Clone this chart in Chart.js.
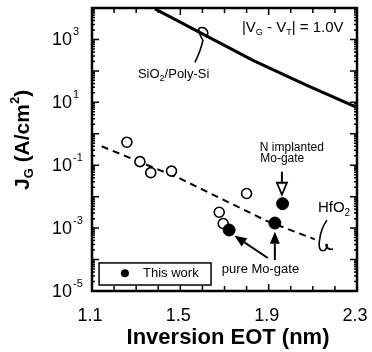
<!DOCTYPE html>
<html>
<head>
<meta charset="utf-8">
<script src="https://cdn.jsdelivr.net/npm/chart.js@4.4.1/dist/chart.umd.min.js"></script>
<style>
  html, body { margin: 0; padding: 0; background: #fff; }
  #wrap { width: 372px; height: 352px; }
</style>
</head>
<body>
<div id="wrap"><canvas id="jg-chart" width="372" height="352"></canvas></div>
<script>
// Gate leakage vs inversion EOT
const sioEot   = [1.385, 1.829, 2.073, 2.299];
const sioJg    = [9400, 215, 34.7, 6.9];

const hfoEot   = [1.144, 1.498, 1.890, 2.109];
const hfoJg    = [0.40, 0.038, 0.0017, 0.00044];

const refEot   = [1.258, 1.317, 1.366, 1.460, 1.800, 1.676, 1.694];
const refJg    = [0.54, 0.13, 0.058, 0.065, 0.0126, 0.0032, 0.0014];

const moEot    = [1.721, 1.928, 1.963];
const moJg     = [0.00087, 0.00145, 0.0060];

const xTickLabels = ['1.1', '1.5', '1.9', '2.3'];
const yTickExps   = [3, 1, -1, -3, -5];

const toPts = (xs, ys) => xs.map((x, i) => ({ x: x, y: ys[i] }));

const FONT = '"Liberation Sans", Arial, sans-serif';

function supText(ctx, base, sup, x, y, size, supSize, rise) {
    ctx.font = size + 'px ' + FONT;
    ctx.fillText(base, x, y);
    const w = ctx.measureText(base).width;
    ctx.font = supSize + 'px ' + FONT;
    ctx.fillText(sup, x + w + 1, y - rise);
}

function arrow(ctx, x1, y1, x2, y2, filled) {
    const a = Math.atan2(y2 - y1, x2 - x1);
    const len = 12, half = 5;
    const bx = x2 - len * Math.cos(a), by = y2 - len * Math.sin(a);
    ctx.beginPath();
    ctx.moveTo(x1, y1);
    ctx.lineTo(bx, by);
    ctx.lineWidth = 2;
    ctx.stroke();
    ctx.beginPath();
    ctx.moveTo(x2, y2);
    ctx.lineTo(bx + half * Math.sin(a), by - half * Math.cos(a));
    ctx.lineTo(bx - half * Math.sin(a), by + half * Math.cos(a));
    ctx.closePath();
    if (filled) {
        ctx.fill();
    } else {
        ctx.fillStyle = '#fff';
        ctx.fill();
        ctx.lineWidth = 1.8;
        ctx.stroke();
        ctx.fillStyle = '#000';
    }
}

const paperPlugin = {
    id: 'paper',
    afterDraw(chart) {
        const ctx = chart.ctx;
        const xs = chart.scales.x, ys = chart.scales.y;
        const X = v => xs.getPixelForValue(v);
        const Y = v => ys.getPixelForValue(v);
        const area = chart.chartArea;

        ctx.save();
        ctx.strokeStyle = '#000';
        ctx.fillStyle = '#000';

        // frame
        ctx.lineWidth = 2.5;
        ctx.strokeRect(area.left, area.top, area.right - area.left, area.bottom - area.top);

        // x ticks, inward on bottom and top
        ctx.lineWidth = 1.5;
        for (let i = 0; i <= 12; i++) {
            const v = 1.1 + i * 0.1;
            const px = X(v);
            const len = (i % 4 === 0) ? 7 : 5;
            ctx.beginPath();
            ctx.moveTo(px, area.bottom); ctx.lineTo(px, area.bottom - len);
            ctx.moveTo(px, area.top); ctx.lineTo(px, area.top + len);
            ctx.stroke();
        }
        // y ticks, decades and minor
        for (let e = -5; e <= 4; e++) {
            for (let m = 1; m <= 9; m++) {
                const v = m * Math.pow(10, e);
                if (v > 1e4 * 1.0001) continue;
                const py = Y(v);
                const len = m === 1 ? 7 : 3;
                ctx.beginPath();
                ctx.moveTo(area.left, py); ctx.lineTo(area.left + len, py);
                ctx.moveTo(area.right, py); ctx.lineTo(area.right - len, py);
                ctx.stroke();
            }
        }

        // tick labels
        ctx.textBaseline = 'middle';
        ctx.textAlign = 'center';
        ctx.font = '18px ' + FONT;
        xTickLabels.forEach(t => ctx.fillText(t, X(parseFloat(t)) - 2, 316));
        ctx.textAlign = 'left';
        yTickExps.forEach(e => {
            supText(ctx, '10', String(e), 52, Y(Math.pow(10, e)) + 1, 18, 11, 8);
        });

        // axis titles
        ctx.font = 'bold 22px ' + FONT;
        ctx.textAlign = 'center';
        ctx.fillText('Inversion EOT (nm)', 228, 338);

        ctx.save();
        ctx.translate(23, 190);
        ctx.rotate(-Math.PI / 2);
        ctx.textAlign = 'left';
        let cx = 0;
        const part = (txt, size, dy) => {
            ctx.font = 'bold ' + size + 'px ' + FONT;
            ctx.fillText(txt, cx, dy);
            cx += ctx.measureText(txt).width;
        };
        part('J', 21, 0);
        part('G', 13, 6);
        part(' (A/cm', 21, 0);
        part('2', 13, -8);
        part(')', 21, 0);
        ctx.restore();

        // annotations
        ctx.textAlign = 'left';
        ctx.textBaseline = 'middle';
        // |VG - VT| = 1.0V
        {
            let ax = X(1.779);
            const ay = Y(2400);
            const seg = (txt, size, dy) => {
                ctx.font = size + 'px ' + FONT;
                ctx.fillText(txt, ax, ay + dy);
                ax += ctx.measureText(txt).width;
            };
            seg('|V', 15, 0); seg('G', 9, 5); seg(' - V', 15, 0); seg('T', 9, 5); seg('| = 1.0V', 15, 0);
        }
        // SiO2/Poly-Si
        {
            let ax = X(1.308);
            const ay = Y(78);
            const seg = (txt, size, dy) => {
                ctx.font = size + 'px ' + FONT;
                ctx.fillText(txt, ax, ay + dy);
                ax += ctx.measureText(txt).width;
            };
            seg('SiO', 13, 0); seg('2', 9, 4); seg('/Poly-Si', 13, 0);
        }
        // HfO2
        {
            let ax = X(2.123);
            const ay = Y(0.0043);
            ctx.font = '15px ' + FONT;
            ctx.fillText('HfO', ax, ay);
            ax += ctx.measureText('HfO').width;
            ctx.font = '10px ' + FONT;
            ctx.fillText('2', ax, ay + 5);
        }
        ctx.font = '12px ' + FONT;
        ctx.fillText('N implanted', X(1.860), Y(0.37));
        ctx.fillText('Mo-gate', X(1.862), Y(0.166));
        ctx.font = '13px ' + FONT;
        ctx.fillText('pure Mo-gate', X(1.688), Y(4.7e-5));

        // arrows
        arrow(ctx, X(1.960), Y(0.062), X(1.960), Y(0.0115), false);
        arrow(ctx, X(1.896), Y(1.12e-4), X(1.745), Y(5.7e-4), true);
        arrow(ctx, X(1.928), Y(9.6e-5), X(1.928), Y(7.6e-4), true);

        // hooks linking labels to curves
        ctx.lineWidth = 1.6;
        {
            const hx = X(1.602), hy = Y(930);
            ctx.beginPath();
            ctx.moveTo(hx - 8, hy + 22);
            ctx.quadraticCurveTo(hx - 2, hy + 10, hx, hy);
            ctx.bezierCurveTo(hx - 3, hy - 6, hx - 7, hy - 13, hx - 1, hy - 13);
            ctx.bezierCurveTo(hx + 4, hy - 13, hx + 7, hy - 7, hx + 3, hy - 3);
            ctx.stroke();
        }
        {
            const hx = X(2.132), hy = Y(4.8e-4);
            ctx.beginPath();
            ctx.moveTo(hx + 7, hy - 18);
            ctx.quadraticCurveTo(hx + 1, hy - 9, hx, hy);
            ctx.quadraticCurveTo(hx - 2, hy + 9, hx + 1, hy + 12);
            ctx.quadraticCurveTo(hx + 5, hy + 14, hx + 7, hy + 9);
            ctx.quadraticCurveTo(hx + 8, hy + 5, hx + 6, hy + 7);
            ctx.quadraticCurveTo(hx + 8, hy + 12, hx + 13, hy + 11);
            ctx.stroke();
        }

        // legend
        ctx.lineWidth = 1.5;
        const lx1 = X(1.132), lx2 = X(1.639), ly1 = Y(7.8e-5), ly2 = Y(1.55e-5);
        ctx.fillStyle = '#fff';
        ctx.fillRect(lx1, ly1, lx2 - lx1, ly2 - ly1);
        ctx.strokeRect(lx1, ly1, lx2 - lx1, ly2 - ly1);
        ctx.fillStyle = '#000';
        ctx.beginPath();
        ctx.arc(X(1.249), Y(3.7e-5), 4, 0, Math.PI * 2);
        ctx.fill();
        ctx.font = '13px ' + FONT;
        ctx.fillText('This work', X(1.331), Y(3.7e-5));

        ctx.restore();
    }
};

new Chart(document.getElementById('jg-chart'), {
    type: 'scatter',
    data: {
        datasets: [
            {
                label: 'SiO2/Poly-Si',
                data: toPts(sioEot, sioJg),
                showLine: true,
                borderColor: '#000',
                borderWidth: 3,
                pointRadius: 0,
                tension: 0,
                order: 4
            },
            {
                label: 'HfO2',
                data: toPts(hfoEot, hfoJg),
                showLine: true,
                borderColor: '#000',
                borderWidth: 2,
                borderDash: [7, 5],
                pointRadius: 0,
                tension: 0,
                order: 3
            },
            {
                label: 'HfO2 reported',
                data: toPts(refEot, refJg),
                pointStyle: 'circle',
                pointRadius: 5,
                pointBorderWidth: 1.6,
                borderColor: '#000',
                backgroundColor: '#fff',
                order: 2
            },
            {
                label: 'This work',
                data: toPts(moEot, moJg),
                pointStyle: 'circle',
                pointRadius: 6,
                borderColor: '#000',
                backgroundColor: '#000',
                order: 1
            }
        ]
    },
    options: {
        responsive: false,
        devicePixelRatio: 1,
        animation: false,
        events: [],
        layout: { padding: { left: 92, right: 15, top: 8, bottom: 61 } },
        plugins: { legend: { display: false }, tooltip: { enabled: false } },
        scales: {
            x: { type: 'linear', min: 1.1, max: 2.3, display: false },
            y: { type: 'logarithmic', min: 1e-5, max: 1e4, display: false }
        }
    },
    plugins: [paperPlugin]
});
</script>
</body>
</html>
